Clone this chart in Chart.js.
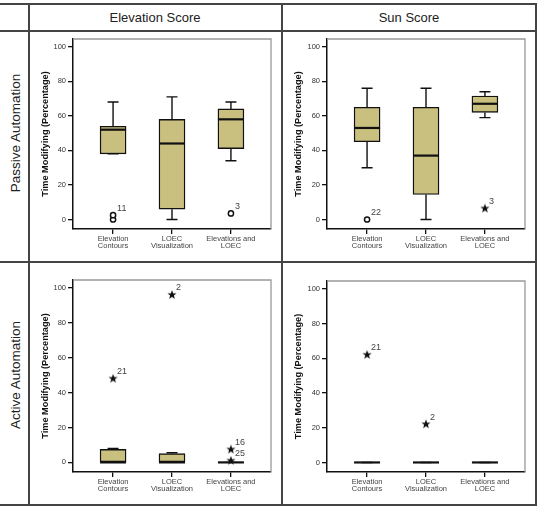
<!DOCTYPE html>
<html>
<head>
<meta charset="utf-8">
<script src="https://cdn.jsdelivr.net/npm/chart.js@4.4.1/dist/chart.umd.min.js"></script>
<style>
  body { margin: 0; background: #fff; font-family: 'Liberation Sans', Arial, sans-serif; }
  #page { position: relative; width: 540px; height: 507px; overflow: hidden; }
  .hl, .vl { position: absolute; background: #444; }
  .head { position: absolute; font-size: 13px; color: #222; transform: translate(-50%, -50%); white-space: nowrap; }
  .rowlab { position: absolute; font-size: 13.5px; color: #222; transform: translate(-50%, -50%) rotate(-90deg); white-space: nowrap; }
  canvas { position: absolute; }
</style>
</head>
<body>
<div id="page">
  <div class="hl" style="left:0; top:3px; width:537px; height:1.5px"></div>
  <div class="hl" style="left:0; top:30px; width:537px; height:1.5px"></div>
  <div class="hl" style="left:0; top:261px; width:537px; height:1.5px"></div>
  <div class="hl" style="left:0; top:504px; width:537px; height:1.5px"></div>
  <div class="vl" style="left:28px; top:3px; width:1.5px; height:503px"></div>
  <div class="vl" style="left:281px; top:3px; width:1.5px; height:503px"></div>
  <div class="vl" style="left:535px; top:3px; width:1.5px; height:503px"></div>

  <div class="head" style="left:155px; top:17px">Elevation Score</div>
  <div class="head" style="left:409px; top:17px">Sun Score</div>
  <div class="rowlab" style="left:15px; top:133px">Passive Automation</div>
  <div class="rowlab" style="left:15px; top:375px">Active Automation</div>

  <canvas id="c1" width="251" height="229" style="left:30px; top:32px"></canvas>
  <canvas id="c2" width="252" height="229" style="left:283px; top:32px"></canvas>
  <canvas id="c3" width="251" height="241" style="left:30px; top:263px"></canvas>
  <canvas id="c4" width="252" height="241" style="left:283px; top:263px"></canvas>
</div>
<script>
const categories = [['Elevation', 'Contours'], ['LOEC', 'Visualization'], ['Elevations and', 'LOEC']];
const yTicks = [0, 20, 40, 60, 80, 100];

// [min, q1, median, q3, max] for each category
const passiveElevation = [[38, 38, 52, 54, 68], [0, 6, 44, 58, 71], [34, 41, 58, 64, 68]];
const passiveSun = [[30, 45, 53, 65, 76], [0, 14.5, 37, 65, 76], [59, 62, 67, 71.5, 74]];
const activeElevation = [[0, 0, 0, 7.5, 8], [0, 0, 0, 5, 5.5], [0, 0, 0, 0, 0]];
const activeSun = [[0, 0, 0, 0, 0], [0, 0, 0, 0, 0], [0, 0, 0, 0, 0]];

// outliers: [category, value, case label, marker]  o = circle, * = extreme
const passiveElevationOut = [[1, 0, '', 'o'], [1, 2.5, '11', 'o'], [3, 3.5, '3', 'o']];
const passiveSunOut = [[1, 0, '22', 'o'], [3, 6.4, '3', '*']];
const activeElevationOut = [[1, 48, '21', '*'], [2, 96, '2', '*'], [3, 7.4, '16', '*'], [3, 1, '25', '*']];
const activeSunOut = [[1, 62, '21', '*'], [2, 22, '2', '*']];

Chart.defaults.font.family = "'Liberation Sans', Arial, sans-serif";

const boxFill = '#c9c080';
const ink = '#111';

function makeStar() {
  const c = document.createElement('canvas');
  c.width = 10; c.height = 10;
  const g = c.getContext('2d');
  g.beginPath();
  for (let k = 0; k < 10; k++) {
    const r = k % 2 ? 2 : 4.8;
    const a = -Math.PI / 2 + k * Math.PI / 5;
    g.lineTo(5 + r * Math.cos(a), 5 + r * Math.sin(a));
  }
  g.closePath();
  g.fillStyle = ink;
  g.fill();
  return c;
}
const starImg = makeStar();

function makePanel(id, stats, outliers, padTop, axisW) {
  const boxPlugin = {
    id: 'boxes',
    afterDatasetsDraw(chart) {
      const ctx = chart.ctx;
      const xs = chart.scales.x, ys = chart.scales.y;
      const a = chart.chartArea;
      ctx.save();
      // frame on top / right
      ctx.strokeStyle = '#999';
      ctx.lineWidth = 1.3;
      ctx.beginPath();
      ctx.moveTo(a.left, a.top);
      ctx.lineTo(a.right, a.top);
      ctx.lineTo(a.right, a.bottom);
      ctx.stroke();

      ctx.strokeStyle = ink;
      stats.forEach((s, i) => {
        const x = xs.getPixelForValue(i + 1);
        const [yMin, yQ1, yMed, yQ3, yMax] = s.map(v => ys.getPixelForValue(v));
        ctx.lineWidth = 1.4;
        ctx.beginPath();
        ctx.moveTo(x, yQ3); ctx.lineTo(x, yMax);
        ctx.moveTo(x, yQ1); ctx.lineTo(x, yMin);
        ctx.moveTo(x - 5.5, yMax); ctx.lineTo(x + 5.5, yMax);
        ctx.moveTo(x - 5.5, yMin); ctx.lineTo(x + 5.5, yMin);
        ctx.stroke();
        ctx.lineWidth = 2.2;
        ctx.beginPath();
        ctx.moveTo(x - 13, yMed); ctx.lineTo(x + 13, yMed);
        ctx.stroke();
      });

      ctx.fillStyle = '#444';
      ctx.font = "9px 'Liberation Sans', Arial, sans-serif";
      ctx.textBaseline = 'middle';
      ctx.textAlign = 'left';
      outliers.forEach(o => {
        if (!o[2]) return;
        ctx.fillText(o[2], xs.getPixelForValue(o[0]) + 4, ys.getPixelForValue(o[1]) - 7);
      });
      ctx.restore();
    }
  };

  return new Chart(document.getElementById(id), {
    type: 'bar',
    data: {
      datasets: [
        {
          type: 'bar',
          data: stats.map((s, i) => ({ x: i + 1, y: [s[1], s[3]] })),
          backgroundColor: boxFill,
          borderColor: ink,
          borderWidth: 1.4,
          borderSkipped: false,
          barThickness: 26
        },
        {
          type: 'scatter',
          data: outliers.filter(o => o[3] === 'o').map(o => ({ x: o[0], y: o[1] })),
          pointStyle: 'circle',
          pointRadius: 2.6,
          borderWidth: 1.5,
          borderColor: ink,
          backgroundColor: '#fff'
        },
        {
          type: 'scatter',
          data: outliers.filter(o => o[3] === '*').map(o => ({ x: o[0], y: o[1] })),
          pointStyle: starImg,
          pointRadius: 4
        }
      ]
    },
    options: {
      responsive: false,
      animation: false,
      layout: { padding: { top: padTop, right: 10, left: 0, bottom: 0 } },
      plugins: { legend: { display: false }, tooltip: { enabled: false } },
      scales: {
        x: {
          type: 'linear',
          min: 0.32,
          max: 3.68,
          offset: false,
          afterBuildTicks: s => { s.ticks = categories.map((c, i) => ({ value: i + 1 })); },
          afterFit: s => { s.height = 32; },
          grid: { drawOnChartArea: false, offset: false, tickLength: 5, color: ink, lineWidth: 1.3 },
          border: { color: ink, width: 1.5 },
          ticks: {
            callback: v => categories[v - 1],
            font: { size: 7.5, lineHeight: 1.0 },
            color: '#444',
            padding: 1,
            maxRotation: 0,
            autoSkip: false
          }
        },
        y: {
          min: -5.5,
          max: 104.5,
          afterBuildTicks: s => { s.ticks = yTicks.map(v => ({ value: v })); },
          afterFit: s => { s.width = axisW; },
          grid: { drawOnChartArea: false, tickLength: 5, color: ink, lineWidth: 1.3 },
          border: { color: ink, width: 1.5 },
          ticks: { font: { size: 7.5 }, color: '#333', padding: 2 },
          title: {
            display: true,
            text: 'Time Modifying (Percentage)',
            font: { size: 9.2, weight: 'bold' },
            color: ink,
            padding: { top: 9.8, bottom: 0 }
          }
        }
      }
    },
    plugins: [boxPlugin]
  });
}

makePanel('c1', passiveElevation, passiveElevationOut, 7, 43);
makePanel('c2', passiveSun, passiveSunOut, 7, 44);
makePanel('c3', activeElevation, activeElevationOut, 17, 43);
makePanel('c4', activeSun, activeSunOut, 18, 44);
</script>
</body>
</html>
